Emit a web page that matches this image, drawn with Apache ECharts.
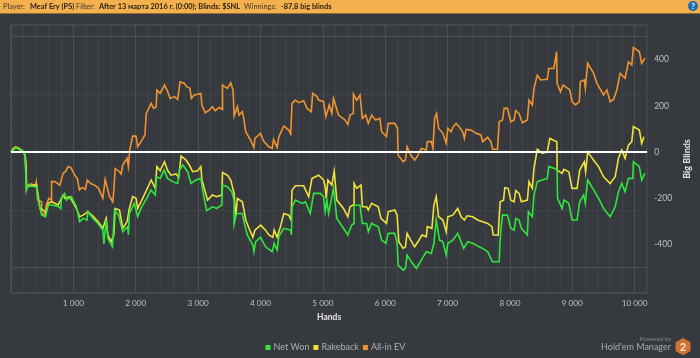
<!DOCTYPE html>
<html>
<head>
<meta charset="utf-8">
<style>
  html, body { margin: 0; padding: 0; background: #36393d; }
  #chart { width: 700px; height: 358px; }
</style>
<script src="https://cdn.jsdelivr.net/npm/echarts@6/dist/echarts.min.js"></script>
</head>
<body>
<div id="chart"></div>
<script>
const allInHands = [0,33,76,129,182,225,246,246,267,331,384,405,427,490,490,543,565,607,650,650,703,783,809,836,873,915,958,1022,1064,1096,1139,1192,1224,1277,1340,1404,1473,1510,1542,1580,1633,1649,1670,1739,1765,1792,1861,1882,1904,1951,2005,2031,2084,2148,2169,2169,2248,2286,2328,2339,2392,2461,2514,2551,2620,2673,2711,2780,2817,2870,2891,2939,3045,3061,3114,3178,3231,3274,3338,3391,3391,3470,3523,3561,3577,3630,3656,3709,3736,3763,3842,3895,3911,4002,4055,4135,4188,4209,4267,4294,4374,4453,4485,4506,4560,4613,4693,4746,4815,4837,4906,4932,5012,5049,5065,5081,5102,5145,5171,5251,5357,5400,5437,5490,5490,5543,5596,5634,5687,5729,5782,5846,5915,5942,6021,6048,6154,6197,6207,6287,6324,6351,6409,6473,6526,6579,6659,6675,6739,6765,6792,6824,6856,6925,6978,7004,7057,7084,7137,7163,7190,7243,7270,7296,7376,7456,7535,7562,7642,7695,7721,7801,7828,7881,7907,7960,8013,8067,8093,8146,8199,8279,8306,8359,8385,8439,8492,8598,8624,8704,8747,8757,8810,8853,8959,8996,9050,9113,9129,9193,9209,9246,9342,9395,9501,9554,9607,9661,9714,9767,9846,9900,9953,9979,10075,10112,10165];
const allInValues = [0,16,23,17,6,-13,-49,-164,-143,-138,-150,-128,-208,-215,-265,-273,-229,-200,-208,-128,-128,-143,-143,-92,-85,-63,-66,-100,-114,-164,-153,-161,-121,-136,-143,-157,-200,-118,-121,-193,-215,-164,-71,-85,-95,-56,-27,-63,9,69,69,23,45,74,81,167,211,189,196,268,254,290,261,232,240,228,304,297,283,276,232,247,254,203,170,182,196,179,193,185,290,276,300,268,156,196,160,175,139,88,52,20,59,81,45,23,16,55,20,66,113,95,78,211,225,214,222,189,175,254,240,225,218,153,146,182,204,167,232,160,139,120,160,167,251,225,247,146,160,124,160,139,146,88,67,124,124,103,-13,-42,-35,23,-13,-35,-13,16,9,45,45,16,146,167,103,81,38,103,88,107,124,131,107,88,59,98,95,81,74,45,64,45,12,12,131,139,189,189,131,139,179,167,127,139,225,204,276,333,312,315,362,362,434,297,261,290,269,218,204,218,305,312,276,384,341,297,247,269,218,228,269,341,319,391,377,453,434,384,406];

const rakebackHands = [0,76,182,225,251,278,357,411,464,517,559,597,650,756,783,836,862,942,1048,1101,1155,1234,1314,1394,1473,1526,1553,1606,1649,1670,1739,1792,1861,1898,1951,2005,2031,2111,2248,2313,2339,2392,2461,2514,2567,2647,2689,2727,2806,2859,2912,2992,3045,3061,3114,3152,3231,3295,3380,3391,3470,3523,3577,3603,3630,3709,3736,3763,3816,3879,3911,4002,4081,4135,4198,4220,4267,4320,4374,4453,4490,4506,4560,4693,4773,4826,4932,5012,5038,5054,5081,5145,5182,5224,5331,5400,5437,5501,5501,5543,5612,5634,5703,5729,5782,5889,5931,6021,6048,6154,6191,6218,6287,6324,6351,6409,6473,6526,6590,6659,6675,6749,6781,6818,6856,6925,6978,7004,7084,7163,7217,7270,7312,7402,7482,7562,7642,7711,7732,7812,7843,7897,7918,7971,8013,8067,8093,8146,8183,8279,8306,8359,8385,8439,8518,8598,8640,8715,8752,8757,8837,8864,8943,8996,9076,9119,9193,9214,9246,9342,9421,9501,9607,9687,9740,9793,9846,9900,9953,9979,10075,10112,10149];
const rakebackValues = [0,20,6,-13,-150,-143,-143,-143,-244,-251,-265,-222,-215,-229,-215,-186,-200,-193,-244,-280,-273,-258,-277,-301,-330,-287,-359,-388,-359,-244,-251,-330,-301,-244,-193,-200,-244,-200,-121,-157,-63,-81,-42,-81,-100,-95,-110,-17,-35,-56,-85,-81,-63,-121,-172,-208,-186,-193,-186,-89,-100,-121,-179,-280,-201,-215,-251,-294,-330,-369,-338,-316,-338,-359,-369,-338,-369,-323,-266,-273,-294,-165,-146,-146,-193,-114,-100,-121,-150,-201,-121,-143,-82,-208,-244,-280,-237,-227,-136,-157,-143,-237,-237,-251,-222,-237,-287,-309,-258,-251,-273,-388,-417,-410,-352,-381,-410,-388,-359,-367,-323,-330,-230,-193,-280,-294,-345,-280,-273,-244,-280,-294,-276,-280,-294,-302,-309,-323,-359,-359,-215,-208,-154,-157,-208,-215,-167,-179,-215,-208,-128,-157,-71,12,-6,1,59,49,45,-78,-92,-75,-85,-157,-157,-78,-42,-85,1,-35,-63,-107,-136,-107,-27,9,-27,30,45,110,95,38,66];

const netWonHands = [0,76,182,225,246,278,373,411,427,490,554,597,650,756,798,809,862,889,968,1048,1101,1155,1218,1234,1314,1394,1473,1489,1526,1553,1627,1659,1723,1792,1872,1882,1898,1978,2031,2084,2190,2244,2313,2334,2392,2456,2509,2589,2673,2700,2753,2833,2886,2966,3045,3072,3136,3231,3295,3380,3391,3470,3539,3577,3577,3614,3709,3736,3789,3879,3895,3922,4002,4081,4188,4220,4267,4294,4374,4485,4496,4506,4560,4587,4667,4720,4799,4852,4959,5012,5038,5065,5092,5171,5224,5331,5400,5463,5501,5501,5596,5634,5703,5729,5782,5889,5942,6011,6048,6154,6191,6207,6287,6324,6351,6420,6500,6579,6659,6739,6781,6818,6871,6925,6978,7004,7084,7163,7217,7259,7323,7402,7482,7562,7642,7721,7828,7838,7854,7881,7960,8013,8067,8093,8146,8183,8279,8295,8359,8385,8439,8518,8598,8624,8715,8757,8763,8837,8864,8943,8996,9076,9119,9182,9209,9246,9342,9421,9501,9607,9687,9740,9793,9846,9900,9969,9979,10075,10112,10165];
const netWonValues = [0,20,6,-13,-164,-143,-150,-150,-193,-272,-280,-229,-229,-236,-244,-200,-179,-208,-193,-236,-301,-287,-294,-258,-287,-309,-338,-398,-294,-374,-410,-251,-273,-345,-323,-359,-265,-222,-280,-244,-193,-164,-186,-107,-114,-78,-114,-128,-136,-78,-56,-85,-136,-121,-114,-164,-254,-237,-244,-229,-143,-150,-172,-208,-312,-266,-266,-302,-359,-403,-431,-388,-369,-410,-431,-395,-424,-366,-330,-338,-359,-237,-208,-208,-222,-215,-266,-179,-179,-193,-258,-208,-266,-157,-287,-330,-359,-316,-309,-230,-230,-309,-309,-345,-309,-323,-381,-395,-352,-352,-395,-489,-511,-504,-446,-475,-504,-468,-431,-439,-395,-294,-381,-388,-446,-395,-381,-352,-388,-417,-388,-395,-407,-417,-431,-475,-475,-403,-338,-273,-273,-330,-338,-287,-294,-330,-359,-258,-280,-186,-128,-121,-114,-63,-71,-78,-200,-244,-208,-222,-294,-294,-215,-186,-222,-121,-164,-200,-244,-280,-237,-172,-136,-172,-114,-114,-42,-63,-121,-92];

const yLabels = [-400, -200, 0, 200, 400];
const yTicks = [-550,-500,-450,-400,-350,-300,-250,-200,-150,-100,-50,0,50,100,150,200,250,300,350,400,450,500];

const pairs = (xs, ys) => xs.map((x, i) => [x, ys[i]]);

const BG = '#36393d';
const MAJOR = '#4d5053';
const MINOR = '#404347';
const NONE = 'transparent';
const FONT = 'Lato';

// y ticks run every 10 from -610, so -600 is index 1 and the grid repeats each 200
let yGridColors = [];
for (let i = 0; i < 20; i++) {
    if (i === 1) yGridColors.push(MAJOR);
    else if (i % 5 === 1) yGridColors.push(MINOR);
    else yGridColors.push(NONE);
}

const chart = echarts.init(document.getElementById('chart'), null, { renderer: 'canvas' });

function lineSeries(name, color, data, extra) {
    return Object.assign({
        name: name,
        type: 'line',
        data: data,
        showSymbol: false,
        symbol: 'none',
        sampling: false,
        itemStyle: { color: color },
        lineStyle: { color: color, width: 1.6, join: 'miter' }
    }, extra || {});
}

function headerText(x, text, bold) {
    return {
        type: 'text',
        x: x,
        y: 6.5,
        z: 20,
        style: {
            text: text,
            fill: bold ? '#221f1a' : '#3a362e',
            font: (bold ? 'bold ' : '') + '7.4px ' + FONT,
            verticalAlign: 'middle'
        }
    };
}

chart.setOption({
    animation: false,
    backgroundColor: BG,
    textStyle: { fontFamily: FONT },
    grid: { left: 11, right: 50, top: 25, bottom: 65, show: true, borderColor: '#55585b', borderWidth: 1, backgroundColor: 'transparent' },
    legend: {
        left: 265.5,
        top: 343,
        padding: 0,
        itemWidth: 5,
        itemHeight: 5,
        itemGap: 4,
        icon: 'rect',
        data: ['Net Won', 'Rakeback', 'All-in EV'],
        textStyle: { color: '#aeb0b2', fontSize: 9, padding: [0, 0, 0, -2], fontFamily: FONT }
    },
    xAxis: {
        type: 'value',
        min: 0,
        max: 10200,
        interval: 200,
        name: 'Hands',
        nameLocation: 'middle',
        nameGap: 20,
        nameTextStyle: { color: '#e4e4e4', fontWeight: 'bold', fontSize: 8.5, fontFamily: FONT },
        axisLine: { show: false },
        axisTick: { show: true, length: 2, lineStyle: { color: '#55585b' } },
        axisLabel: {
            color: '#bfc1c3',
            fontSize: 8.2,
            margin: 6,
            showMaxLabel: false,
            formatter: v => (v > 0 && v % 1000 === 0) ? String(v).replace(/(\d)(\d{3})$/, '$1 $2') : ''
        },
        splitLine: { show: true, lineStyle: { color: [MAJOR, MINOR, MINOR, MINOR, MINOR], width: 1 } }
    },
    yAxis: {
        type: 'value',
        position: 'right',
        min: -610,
        max: 550,
        interval: 10,
        name: 'Big Blinds',
        nameLocation: 'middle',
        nameGap: 24,
        nameRotate: 90,
        nameTextStyle: { color: '#e4e4e4', fontWeight: 'bold', fontSize: 9, fontFamily: FONT },
        axisLine: { show: false },
        axisTick: { show: true, length: 2, customValues: yTicks, lineStyle: { color: '#55585b' } },
        axisLabel: {
            color: '#bfc1c3',
            fontSize: 8.5,
            margin: 7,
            customValues: yLabels
        },
        splitLine: { show: true, lineStyle: { color: yGridColors, width: 1 } }
    },
    series: [
        lineSeries('All-in EV', '#ef9430', pairs(allInHands, allInValues), { z: 2 }),
        lineSeries('Rakeback', '#f0e23a', pairs(rakebackHands, rakebackValues), { z: 3 }),
        lineSeries('Net Won', '#2ee63c', pairs(netWonHands, netWonValues), {
            z: 4,
            markLine: {
                silent: true,
                symbol: 'none',
                label: { show: false },
                lineStyle: { color: '#ffffff', width: 2, type: 'solid' },
                data: [{ yAxis: 0 }],
                z: 10
            }
        })
    ],
    graphic: [
        { type: 'rect', z: -1, shape: { x: 0, y: 0, width: 700, height: 13 }, style: { fill: '#f4b04c' } },
        { type: 'rect', z: -1, shape: { x: 0, y: 13, width: 700, height: 1 }, style: { fill: '#8d6d38' } },
        headerText(3, 'Player:', false),
        headerText(30, 'Meaf Ery (PS)', true),
        headerText(76, 'Filter:', false),
        headerText(99, 'After 13 марта 2016 г. (0:00); Blinds: $SNL', true),
        headerText(244, 'Winnings:', false),
        headerText(281, '-87,8 big blinds', true),
        { type: 'circle', shape: { cx: 693, cy: 6, r: 5 }, style: { fill: '#1c6fb5' } },
        { type: 'text', x: 693, y: 6, style: { text: '?', fill: '#ffffff', font: 'bold 8px ' + FONT, align: 'center', verticalAlign: 'middle' } },
        { type: 'text', x: 671, y: 339, style: { text: 'Powered by', fill: '#85888a', font: '6px ' + FONT, align: 'right', verticalAlign: 'middle' } },
        { type: 'text', x: 671, y: 347, style: { text: "Hold'em Manager", fill: '#a9abad', font: '9px ' + FONT, align: 'right', verticalAlign: 'middle' } },
        { type: 'polygon', shape: { points: [[683, 338], [690.5, 342.3], [690.5, 351], [683, 355.3], [675.5, 351], [675.5, 342.3]] }, style: { fill: '#d2722e' } },
        { type: 'text', x: 683, y: 347, style: { text: '2', fill: '#f3e9df', font: 'bold 11px ' + FONT, align: 'center', verticalAlign: 'middle' } }
    ]
});
</script>
</body>
</html>
